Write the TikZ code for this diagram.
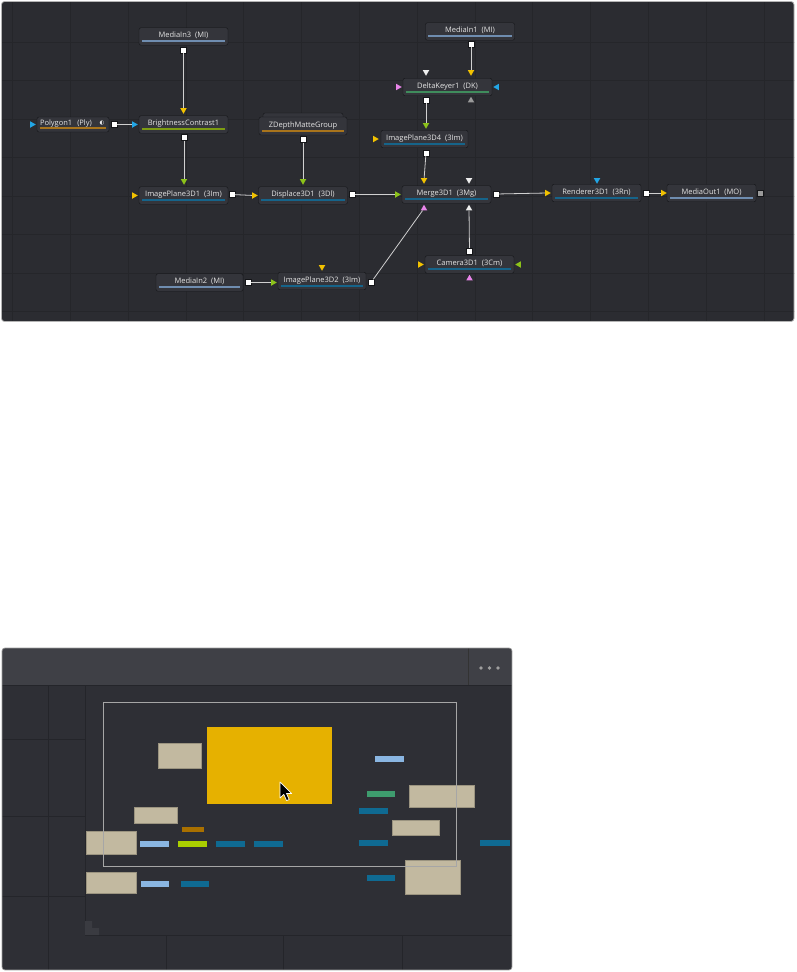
\documentclass[tikz,border=0pt]{standalone}
\usepackage{fontspec}
\setmainfont{Open Sans}
\newfontfamily\symfont{DejaVu Sans}
\usepackage{xcolor}
\usepackage{tikz}
\usetikzlibrary{shapes.geometric}

\definecolor{panelbg}{HTML}{2B2C31}
\definecolor{gridln}{HTML}{25262A}
\definecolor{panelrim}{HTML}{B4B4B4}
\definecolor{toolbg}{HTML}{34353B}
\definecolor{toolrim}{HTML}{141518}
\definecolor{tooltxt}{HTML}{E4E4E4}
\definecolor{wirecol}{HTML}{D0D0D0}
\definecolor{pyellow}{HTML}{F2C200}
\definecolor{pgreen}{HTML}{8CC21A}
\definecolor{pblue}{HTML}{22A6E6}
\definecolor{ppink}{HTML}{E884E8}
\definecolor{pwhite}{HTML}{EEEEEE}
\definecolor{pgray}{HTML}{9A9A9A}
\definecolor{barsteel}{HTML}{6F8DB0}
\definecolor{barteal}{HTML}{16648A}
\definecolor{barolive}{HTML}{7D9C12}
\definecolor{barorange}{HTML}{A8741C}
\definecolor{barkey}{HTML}{3F8C5C}
\definecolor{navbg}{HTML}{2E2F35}
\definecolor{navhead}{HTML}{3F4046}
\definecolor{navline}{HTML}{24252A}
\definecolor{navrim}{HTML}{9C9C9C}
\definecolor{navtan}{HTML}{C2B9A0}
\definecolor{navgold}{HTML}{E6B100}
\definecolor{navsky}{HTML}{8AB6E2}
\definecolor{navteal}{HTML}{0F6A92}
\definecolor{navgreen}{HTML}{3E9C6E}
\definecolor{navlime}{HTML}{AACF00}
\definecolor{navbrown}{HTML}{A97000}

\begin{document}
\begin{tikzpicture}[
    x=1pt, y=-1pt,
    tool/.style={draw=toolrim, fill=toolbg, rounded corners=2pt,
                 minimum width=89pt, minimum height=17.5pt, inner sep=0pt,
                 text=tooltxt, font=\fontsize{7.5}{8}\selectfont,
                 text height=6pt, text depth=3.5pt},
    outsq/.style={draw=toolrim, fill=#1, minimum size=6pt,
                  inner sep=0pt, line width=0.4pt},
    outsq/.default=white,
    port/.style={regular polygon, regular polygon sides=3,
                 minimum size=7.5pt, inner sep=0pt, fill=#1},
    pdown/.style={shape border rotate=180},
    pup/.style={shape border rotate=0},
    pright/.style={shape border rotate=-90},
    pleft/.style={shape border rotate=90},
    wire/.style={draw=wirecol, line width=0.8pt},
    tan/.style={fill=navtan, draw=navtan!80!black, line width=0.4pt}
  ]
  \useasboundingbox (0, 0) rectangle (796, 972);

  % Flow panel
  \fill[panelbg, rounded corners=3pt] (1.5, 1.5) rectangle (794, 321.5);
  \begin{scope}
    \clip[rounded corners=3pt] (1.5, 1.5) rectangle (794, 321.5);
    \foreach \k in {0,...,13}
      \draw[gridln, line width=0.6pt] (12.5+57.8*\k, 0) -- (12.5+57.8*\k, 322);
    \foreach \k in {1,...,8}
      \draw[gridln, line width=0.6pt] (0, 3.5+38.5*\k) -- (796, 3.5+38.5*\k);
  \end{scope}
  \draw[panelrim, line width=0.8pt, rounded corners=3pt]
    (1.5, 1.5) rectangle (794, 321.5);

  % Group backing plate
  \draw[toolrim, fill=toolbg, rounded corners=2pt]
    (263, 113) rectangle (343, 121);

  % Tools
  \node[tool] (mi3) at (183.5, 36.5) {MediaIn3~~(MI)};
  \node[tool] (bc) at (183.5, 124.5) {BrightnessContrast1};
  \node[tool, minimum width=72pt, minimum height=15pt,
        text width=66pt, align=left]
    (ply) at (73, 124.5) {Polygon1~~(Ply)};
  \node[tool, minimum width=88pt, minimum height=18pt]
    (zdg) at (303, 126) {ZDepthMatteGroup};
  \node[tool] (ip1) at (183.5, 195.5) {ImagePlane3D1~~(3Im)};
  \node[tool] (dsp) at (303, 195.5) {Displace3D1~~(3Dl)};
  \node[tool] (mrg) at (446.5, 194.5) {Merge3D1~~(3Mg)};
  \node[tool] (rnd) at (596.5, 193) {Renderer3D1~~(3Rn)};
  \node[tool] (mo) at (711.5, 193) {MediaOut1~~(MO)};
  \node[tool] (cam) at (469.5, 264.5) {Camera3D1~~(3Cm)};
  \node[tool, minimum width=87pt] (mi2) at (199.5, 282.5) {MediaIn2~~(MI)};
  \node[tool, minimum width=88pt] (ip2) at (322, 281) {ImagePlane3D2~~(3Im)};
  \node[tool] (mi1) at (470, 31.5) {MediaIn1~~(MI)};
  \node[tool] (dk) at (447.5, 87) {DeltaKeyer1~~(DK)};
  \node[tool, minimum width=87pt] (ip4) at (424.5, 139) {ImagePlane3D4~~(3Im)};

  % colour bars
  \foreach \n/\c in {mi3/barsteel, mi2/barsteel, mi1/barsteel, mo/barsteel,
                     bc/barolive, ply/barorange, zdg/barorange, dk/barkey,
                     ip1/barteal, ip2/barteal, ip4/barteal, dsp/barteal,
                     mrg/barteal, rnd/barteal, cam/barteal}
    \draw[draw=\c, line width=2pt]
      ([xshift=3pt, yshift=4pt]\n.south west)
      -- ([xshift=-3pt, yshift=4pt]\n.south east);

  \node[text=pwhite, font=\symfont\fontsize{5.5}{6}\selectfont, inner sep=0pt]
    (plyicon) at (102, 123.5) {◐};

  % Outputs
  \node[outsq] (mi3o) at (183.5, 50) {};
  \node[outsq] (plyo) at (114, 124.5) {};
  \node[outsq] (bco) at (184, 137.5) {};
  \node[outsq] (zdgo) at (303, 139.5) {};
  \node[outsq] (ip1o) at (232, 194.5) {};
  \node[outsq] (dspo) at (352, 194.5) {};
  \node[outsq] (mrgo) at (496, 194) {};
  \node[outsq] (rndo) at (646, 193) {};
  \node[outsq=pgray] (moo) at (760.5, 193) {};
  \node[outsq] (camo) at (469.5, 251) {};
  \node[outsq] (mi2o) at (248, 282.5) {};
  \node[outsq] (ip2o) at (371, 282.5) {};
  \node[outsq] (mi1o) at (471, 44) {};
  \node[outsq] (dko) at (426, 100) {};
  \node[outsq] (ip4o) at (426, 153) {};

  % Inputs
  \node[port=pyellow, pdown] (bcin) at (183.5, 110) {};
  \node[port=pblue, pright] (bcfx) at (134, 124.5) {};
  \node[port=pblue, pright] (plyin) at (32, 124.5) {};
  \node[port=pgreen, pdown] (ip1in) at (184, 181) {};
  \node[port=pyellow, pright] (ip1mt) at (134, 195.5) {};
  \node[port=pgreen, pdown] (dspin) at (303, 181) {};
  \node[port=pyellow, pright] (dspmt) at (254, 195.5) {};
  \node[port=pgreen, pright] (mrgin1) at (397, 194.5) {};
  \node[port=pyellow, pdown] (mrgin2) at (424, 180) {};
  \node[port=pwhite, pdown] (mrgin3) at (469, 180) {};
  \node[port=ppink, pup] (mrgin4) at (424, 208.5) {};
  \node[port=pwhite, pup] (mrgin5) at (469, 208.5) {};
  \node[port=pyellow, pright] (rndin) at (547, 193) {};
  \node[port=pblue, pdown] (rndfx) at (597, 180) {};
  \node[port=pyellow, pright] (moin) at (663, 193) {};
  \node[port=pyellow, pright] (camin1) at (420, 264.5) {};
  \node[port=pgreen, pleft] (camin2) at (519, 264.5) {};
  \node[port=ppink, pup] (camin3) at (469.5, 278.5) {};
  \node[port=pgreen, pright] (ip2in) at (273, 282.5) {};
  \node[port=pyellow, pdown] (ip2mt) at (322, 267) {};
  \node[port=pwhite, pdown] (dkin1) at (426, 72) {};
  \node[port=pyellow, pdown] (dkin2) at (471, 72) {};
  \node[port=ppink, pright] (dkin3) at (398, 87) {};
  \node[port=pblue, pleft] (dkin4) at (497, 87) {};
  \node[port=pgray, pup] (dkin5) at (471, 100.5) {};
  \node[port=pgreen, pdown] (ip4in) at (426, 125) {};
  \node[port=pyellow, pright] (ip4mt) at (375, 139) {};

  % Connections
  \draw[wire] (mi3o) -- (bcin);
  \draw[wire] (plyo) -- (bcfx);
  \draw[wire] (bco) -- (ip1in);
  \draw[wire] (zdgo) -- (dspin);
  \draw[wire] (ip1o) -- (dspmt);
  \draw[wire] (dspo) -- (mrgin1);
  \draw[wire] (mi1o) -- (dkin2);
  \draw[wire] (dko) -- (ip4in);
  \draw[wire] (ip4o) -- (mrgin2);
  \draw[wire] (mrgo) -- (rndin);
  \draw[wire] (rndo) -- (moin);
  \draw[wire] (camo) -- (mrgin5);
  \draw[wire] (mi2o) -- (ip2in);
  \draw[wire] (ip2o) -- (mrgin4);

  % Navigator panel
  \begin{scope}
    \clip[rounded corners=3pt] (2, 648) rectangle (512, 970);
    \fill[navbg] (2, 648) rectangle (512, 970);
    \fill[navhead] (2, 648) rectangle (512, 685);
    \draw[navline, line width=1pt] (2, 685) -- (512, 685);
    \draw[black!80, line width=0.8pt] (468, 648) -- (468, 685);
    % outer grid
    \draw[navline, line width=0.8pt] (48, 685) -- (48, 970);
    \draw[navline, line width=0.8pt] (85, 685) -- (85, 935) -- (512, 935);
    \foreach \yy in {739, 816, 896}
      \draw[navline, line width=0.8pt] (2, \yy) -- (85, \yy);
    \foreach \xx in {166, 283, 402}
      \draw[navline, line width=0.8pt] (\xx, 935) -- (\xx, 970);
    \fill[navhead!70!navbg]
      (85, 921) -- (92, 921) -- (92, 928) -- (99, 928) -- (99, 935)
      -- (85, 935) -- cycle;
  \end{scope}
  \draw[navrim, line width=0.7pt, rounded corners=3pt]
    (2, 648) rectangle (512, 970);
  \foreach \xx in {481, 489.5, 498}
    \fill[gray!75] (\xx, 668) circle (1.9);

  % overview of tools
  \fill[navgold] (207, 727) rectangle (332, 804);
  \draw[tan] (158, 743) rectangle (201, 768);
  \draw[tan] (134, 807) rectangle (177, 823);
  \draw[tan] (86, 831) rectangle (136, 854);
  \draw[tan] (86, 872) rectangle (136, 893);
  \draw[tan] (409, 785) rectangle (474, 807);
  \draw[tan] (392, 820) rectangle (439, 835);
  \draw[tan] (405, 860) rectangle (460, 894);
  \fill[navsky] (375, 756) rectangle (404, 762);
  \fill[navgreen] (367, 791) rectangle (395, 797);
  \fill[navteal] (359, 808) rectangle (388, 813.5);
  \fill[navteal] (359, 840) rectangle (388, 846);
  \fill[navteal] (480, 840) rectangle (510, 846);
  \fill[navteal] (367, 875) rectangle (395, 881);
  \fill[navbrown] (182, 827) rectangle (204, 831.5);
  \fill[navsky] (140, 841) rectangle (169, 847);
  \fill[navlime] (178, 841) rectangle (207, 847);
  \fill[navteal] (216, 841) rectangle (245, 847);
  \fill[navteal] (254, 841) rectangle (283, 847);
  \fill[navsky] (141, 881) rectangle (169, 887);
  \fill[navteal] (181, 881) rectangle (209, 887);

  % viewport
  \draw[gray!70, line width=0.9pt] (103, 702) rectangle (456, 866);

  % cursor
  \filldraw[fill=black, draw=white, line width=0.7pt, line join=round]
    (280, 782) -- ++(0, 16) -- ++(3.8, -3.6) -- ++(2.8, 6.2)
    -- ++(2.6, -1.1) -- ++(-2.7, -6) -- ++(5.2, 0) -- cycle;
\end{tikzpicture}
\end{document}
